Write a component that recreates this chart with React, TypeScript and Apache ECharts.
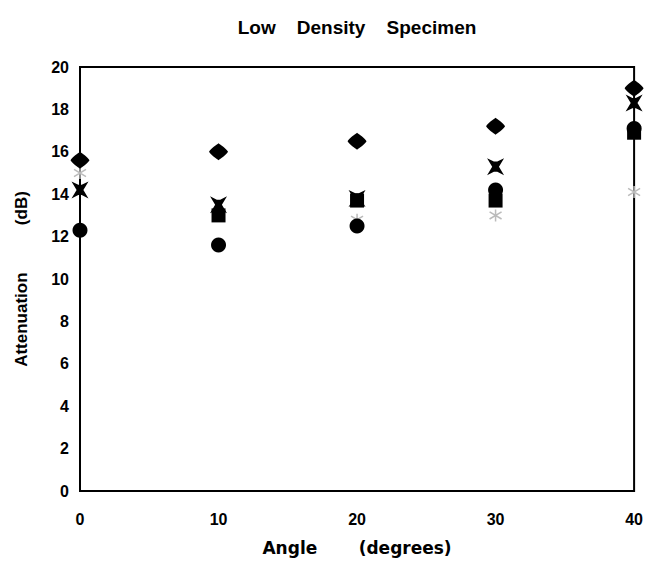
import React, { useEffect, useRef } from "react";
import * as echarts from "echarts";

const angles = [0, 10, 20, 30, 40];
const yTicks = [0, 2, 4, 6, 8, 10, 12, 14, 16, 18, 20];
const diamondSeries = [15.6, 16.0, 16.5, 17.2, 19.0];
const bowtieSeries = [14.2, 13.5, 13.8, 15.3, 18.3];
const circleSeries = [12.3, 11.6, 12.5, 14.2, 17.1];
const squareSeries = [null, 13.0, 13.7, 13.7, 16.9];
const faintSeries = [15.0, null, 12.8, 13.0, 14.1];

const FONT = "Liberation Sans";

const pairs = (vals: (number | null)[]) =>
  angles.map((a, i) => [a, vals[i]]).filter((p) => p[1] !== null);

export default function App() {
  const ref = useRef<HTMLDivElement>(null);
  useEffect(() => {
    if (!ref.current) return;
    const chart = echarts.init(ref.current, undefined, { renderer: "svg" });
    const base = { type: "scatter", z: 3 };
    chart.setOption({
      animation: false,
      backgroundColor: "#fff",
      title: {
        text: "Low    Density    Specimen",
        left: 352,
        top: 13,
        textAlign: "center",
        textStyle: { fontFamily: FONT, fontWeight: "bold", fontSize: 19, color: "#000" },
      },
      grid: {
        left: 80,
        right: 11,
        top: 67,
        bottom: 72,
        show: true,
        borderColor: "#000",
        borderWidth: 2,
      },
      xAxis: {
        type: "value",
        min: 0,
        max: 40,
        interval: 10,
        name: "Angle       (degrees)",
        nameLocation: "middle",
        nameGap: 48,
        nameTextStyle: { fontFamily: "DejaVu Sans", fontWeight: "bold", fontSize: 17, color: "#000" },
        axisLine: { show: true, lineStyle: { color: "#000", width: 2 } },
        axisTick: { show: false },
        splitLine: { show: false },
        axisLabel: { fontFamily: FONT, fontWeight: "bold", fontSize: 16, color: "#000", margin: 20 },
      },
      yAxis: {
        type: "value",
        min: 0,
        max: 20,
        interval: 2,
        name: "Attenuation          (dB)",
        nameLocation: "middle",
        nameGap: 50,
        nameTextStyle: { fontFamily: FONT, fontWeight: "bold", fontSize: 17, color: "#000" },
        axisLine: { show: true, lineStyle: { color: "#000", width: 2 } },
        axisTick: { show: false },
        splitLine: { show: false },
        axisLabel: {
          fontFamily: FONT,
          fontWeight: "bold",
          fontSize: 16,
          color: "#000",
          margin: 11,
          formatter: (v: number) => (yTicks.includes(v) ? String(v) : ""),
        },
      },
      series: [
        {
          ...base,
          name: "faint",
          data: pairs(faintSeries),
          symbol: "path://M5,0 L5,10 M0,2 L10,8 M10,2 L0,8",
          symbolSize: 12,
          itemStyle: { color: "none", borderColor: "#bbb", borderWidth: 1.5, opacity: 1 },
        },
        {
          ...base,
          name: "square",
          data: pairs(squareSeries),
          symbol: "rect",
          symbolSize: 14,
          itemStyle: { color: "#000", opacity: 1 },
        },
        {
          ...base,
          name: "circle",
          data: pairs(circleSeries),
          symbol: "circle",
          symbolSize: 15,
          itemStyle: { color: "#000", opacity: 1 },
        },
        {
          ...base,
          name: "bowtie",
          data: pairs(bowtieSeries),
          symbol: "path://M0,0 L4,2 L6,2 L10,0 L7,5 L10,10 L6,8 L4,8 L0,10 L3,5 Z",
          symbolSize: [17, 17],
          itemStyle: { color: "#000", opacity: 1 },
        },
        {
          ...base,
          name: "diamond",
          data: pairs(diamondSeries),
          symbol: "path://M5,0 C6,1 9,3 10,5 C9,7 6,9 5,10 C4,9 1,7 0,5 C1,3 4,1 5,0 Z",
          symbolSize: [19, 17],
          itemStyle: { color: "#000", opacity: 1 },
        },
      ],
    });
    return () => chart.dispose();
  }, []);
  return <div ref={ref} style={{ width: 646, height: 563, position: "absolute", left: 0, top: 0 }} />;
}
